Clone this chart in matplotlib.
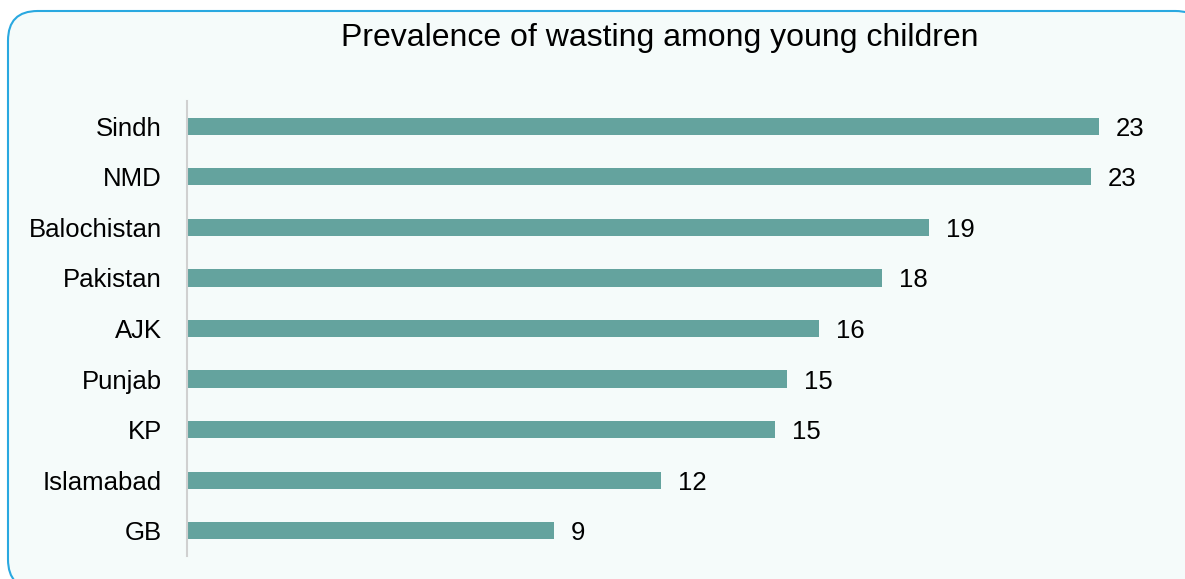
import matplotlib.pyplot as plt
from matplotlib.patches import FancyBboxPatch

regions = ['Sindh', 'NMD', 'Balochistan', 'Pakistan', 'AJK', 'Punjab', 'KP', 'Islamabad', 'GB']
wasting = [23.1, 22.9, 18.8, 17.6, 16.0, 15.2, 14.9, 12.0, 9.3]
shown = [23, 23, 19, 18, 16, 15, 15, 12, 9]

plt.rcParams['font.family'] = ['Liberation Sans', 'DejaVu Sans']

fig = plt.figure(figsize=(11.85, 5.79), dpi=100)
fig.patch.set_facecolor('white')

# rounded panel behind everything
panel = FancyBboxPatch((8 / 1185, 0 - 10 / 579), (1185 - 8 + 20) / 1185, (579 - 11 + 10) / 579,
                       boxstyle='round,pad=0,rounding_size=0.025',
                       transform=fig.transFigure, facecolor='#f5fbfa',
                       edgecolor='#29a8e0', linewidth=1.5, zorder=-5,
                       mutation_aspect=1185 / 579)
fig.add_artist(panel)

ax = fig.add_axes([187 / 1185, (579 - 556) / 579, 1 - 187 / 1185, 455 / 579])
ax.set_facecolor('none')
ax.set_zorder(2)

ypos = list(range(len(regions)))
ax.barh(ypos, wasting, height=0.34, color='#64a39e', zorder=2)
for y, v, s in zip(ypos, wasting, shown):
    ax.annotate(str(s), (v, y), xytext=(12, 0), textcoords='offset points',
                va='center_baseline', ha='left', fontsize=18.5, color='black')

ax.set_ylim(len(regions) - 0.5, -0.5)
ax.set_xlim(0, 25.27)
ax.set_yticks(ypos)
ax.set_yticklabels(regions, fontsize=18.5, va='center_baseline')
ax.tick_params(axis='y', length=0, pad=18)
ax.set_xticks([])
for side in ['top', 'right', 'bottom']:
    ax.spines[side].set_visible(False)
ax.spines['left'].set_color('#d0d0d0')
ax.spines['left'].set_linewidth(1.5)

fig.text(660 / 1185, 1 - 38 / 579, 'Prevalence of wasting among young children',
         ha='center', va='center', fontsize=23, color='black')

fig.savefig('out.png', dpi=100)
